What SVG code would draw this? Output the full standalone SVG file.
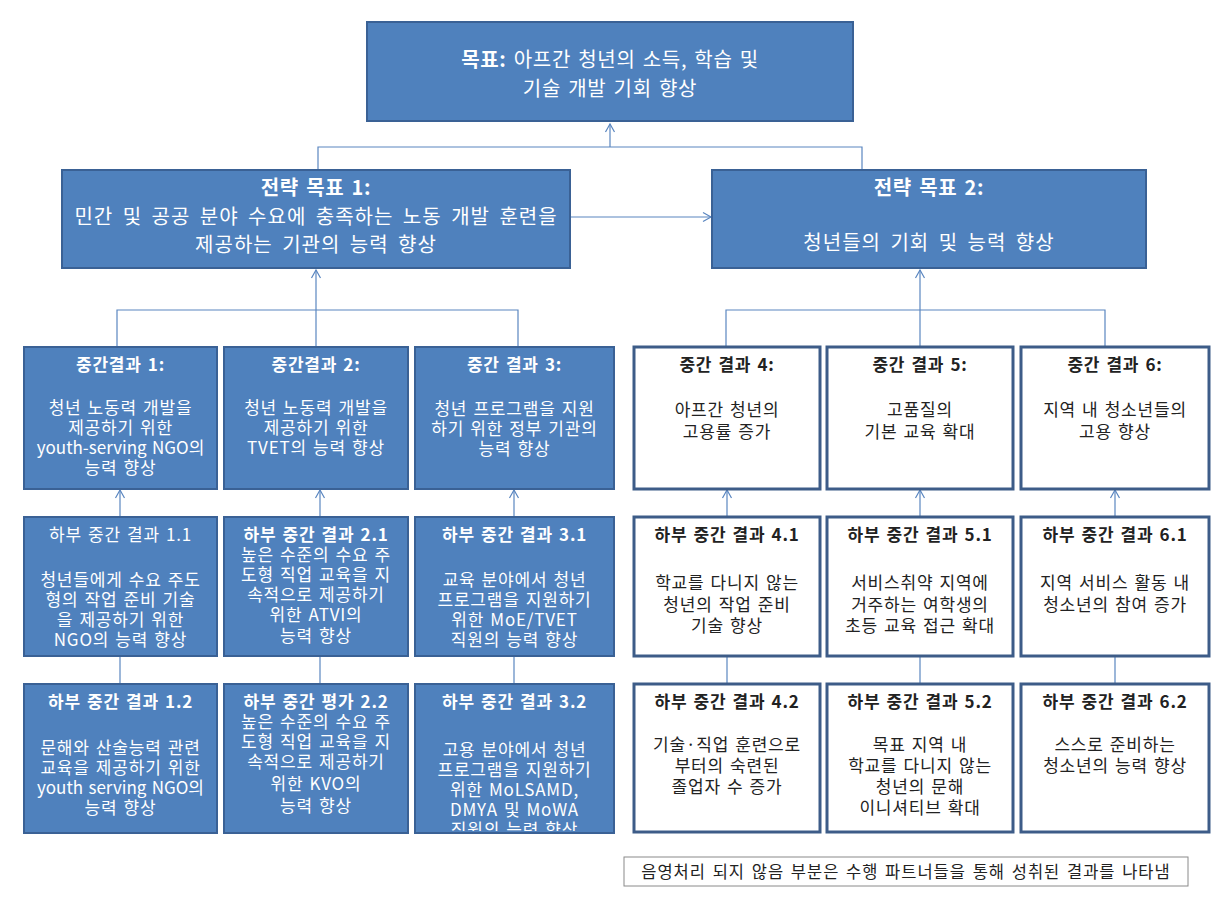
<svg xmlns="http://www.w3.org/2000/svg" width="1217" height="903" viewBox="0 0 1217 903">
<style>
.b{fill:#4F81BD;stroke:#3A6195;stroke-width:2}
.w{fill:#fff;stroke:#3D5C88;stroke-width:3}
.t{font-family:"Noto Sans CJK KR","Noto Sans",sans-serif;font-size:17px;text-anchor:middle;letter-spacing:0.8px;word-spacing:1.5px}
.tw{fill:#fff}
.tk{fill:#222}
.big{font-size:20px;letter-spacing:0.7px;word-spacing:2px}
.h{font-weight:bold}
.c{stroke:#5A86C0;stroke-width:1.2;fill:none}
.lg{fill:#fff;stroke:#8a8a8a;stroke-width:1}
</style>
<defs>
<marker id="a" markerWidth="12" markerHeight="12" refX="10" refY="6" orient="auto" markerUnits="userSpaceOnUse"><path d="M2,1.5 L10,6 L2,10.5" fill="none" stroke="#5A86C0" stroke-width="1.2"/></marker>
<clipPath id="clip3"><rect x="416" y="684" width="198" height="147"/></clipPath>
</defs>
<rect width="1217" height="903" fill="#fff"/>

<g id="connectors">
<path class="c" d="M318,170 V147 H862 V170"/>
<path class="c" d="M610,147 V124" marker-end="url(#a)"/>
<path class="c" d="M570,217 H711" marker-end="url(#a)"/>
<path class="c" d="M117,347 V310 H518 V347"/>
<path class="c" d="M316,310 V347"/>
<path class="c" d="M316,310 V270" marker-end="url(#a)"/>
<path class="c" d="M726,347 V310 H1105 V347"/>
<path class="c" d="M920,310 V347"/>
<path class="c" d="M920,310 V270" marker-end="url(#a)"/>
<path class="c" d="M120,517 V490" marker-end="url(#a)"/>
<path class="c" d="M320,517 V490" marker-end="url(#a)"/>
<path class="c" d="M514,517 V490" marker-end="url(#a)"/>
<path class="c" d="M727,517 V490" marker-end="url(#a)"/>
<path class="c" d="M920,517 V490" marker-end="url(#a)"/>
<path class="c" d="M1115,517 V490" marker-end="url(#a)"/>
<path class="c" d="M120,684 V656"/>
<path class="c" d="M320,684 V656"/>
<path class="c" d="M514,684 V656"/>
<path class="c" d="M727,684 V656"/>
<path class="c" d="M920,684 V656"/>
<path class="c" d="M1115,684 V656"/>
</g>

<g id="goal">
<rect class="b" x="367" y="22" width="486" height="99"/>
<text class="t tw big" x="610" y="67"><tspan class="h">목표:</tspan> 아프간 청년의 소득, 학습 및</text>
<text class="t tw big" x="610" y="96">기술 개발 기회 향상</text>
</g>

<g id="so1">
<rect class="b" x="62" y="170" width="508" height="98"/>
<text class="t tw big h" x="316" y="195">전략 목표 1:</text>
<text class="t tw big" x="316" y="224" style="letter-spacing:1px;word-spacing:4px">민간 및 공공 분야 수요에 충족하는 노동 개발 훈련을</text>
<text class="t tw big" x="316" y="252" style="letter-spacing:1px;word-spacing:4px">제공하는 기관의 능력 향상</text>
</g>

<g id="so2">
<rect class="b" x="712" y="170" width="434" height="98"/>
<text class="t tw big h" x="929" y="195">전략 목표 2:</text>
<text class="t tw big" x="929" y="250" style="letter-spacing:1px;word-spacing:4px">청년들의 기회 및 능력 향상</text>
</g>

<g id="ir1">
<rect class="b" x="24" y="347" width="193" height="142"/>
<text class="t tw h" x="120.5" y="371">중간결과 1:</text>
<text class="t tw" x="120.5" y="414">청년 노동력 개발을</text>
<text class="t tw" x="120.5" y="434">제공하기 위한</text>
<text class="t tw" x="120.5" y="454" style="letter-spacing:0">youth-serving NGO의</text>
<text class="t tw" x="120.5" y="474">능력 향상</text>
</g>
<g id="ir2">
<rect class="b" x="224" y="347" width="184" height="142"/>
<text class="t tw h" x="316" y="371">중간결과 2:</text>
<text class="t tw" x="316" y="414">청년 노동력 개발을</text>
<text class="t tw" x="316" y="434">제공하기 위한</text>
<text class="t tw" x="316" y="454">TVET의 능력 향상</text>
</g>
<g id="ir3">
<rect class="b" x="415" y="347" width="199" height="142"/>
<text class="t tw h" x="514.5" y="371">중간 결과 3:</text>
<text class="t tw" x="514.5" y="415">청년 프로그램을 지원</text>
<text class="t tw" x="514.5" y="435">하기 위한 정부 기관의</text>
<text class="t tw" x="514.5" y="455">능력 향상</text>
</g>
<g id="ir4">
<rect class="w" x="634" y="347" width="186" height="142"/>
<text class="t tk h" x="727" y="371">중간 결과 4:</text>
<text class="t tk" x="727" y="416">아프간 청년의</text>
<text class="t tk" x="727" y="438">고용률 증가</text>
</g>
<g id="ir5">
<rect class="w" x="827" y="347" width="186" height="142"/>
<text class="t tk h" x="920" y="371">중간 결과 5:</text>
<text class="t tk" x="920" y="416">고품질의</text>
<text class="t tk" x="920" y="438">기본 교육 확대</text>
</g>
<g id="ir6">
<rect class="w" x="1021" y="347" width="188" height="142"/>
<text class="t tk h" x="1115" y="371">중간 결과 6:</text>
<text class="t tk" x="1115" y="416">지역 내 청소년들의</text>
<text class="t tk" x="1115" y="438">고용 향상</text>
</g>

<g id="sir11">
<rect class="b" x="24" y="517" width="193" height="139"/>
<text class="t tw" x="120.5" y="541">하부 중간 결과 1.1</text>
<text class="t tw" x="120.5" y="586">청년들에게 수요 주도</text>
<text class="t tw" x="120.5" y="606">형의 작업 준비 기술</text>
<text class="t tw" x="120.5" y="626">을 제공하기 위한</text>
<text class="t tw" x="120.5" y="646">NGO의  능력 향상</text>
</g>
<g id="sir21">
<rect class="b" x="224" y="517" width="184" height="139"/>
<text class="t tw h" x="316" y="541">하부 중간 결과 2.1</text>
<text class="t tw" x="316" y="561">높은 수준의 수요 주</text>
<text class="t tw" x="316" y="581">도형 직업 교육을 지</text>
<text class="t tw" x="316" y="601">속적으로 제공하기</text>
<text class="t tw" x="316" y="621">위한 ATVI의</text>
<text class="t tw" x="316" y="642">능력 향상</text>
</g>
<g id="sir31">
<rect class="b" x="415" y="517" width="199" height="139"/>
<text class="t tw h" x="514.5" y="541">하부 중간 결과 3.1</text>
<text class="t tw" x="514.5" y="586">교육 분야에서 청년</text>
<text class="t tw" x="514.5" y="606">프로그램을 지원하기</text>
<text class="t tw" x="514.5" y="626">위한 MoE/TVET</text>
<text class="t tw" x="514.5" y="646">직원의 능력 향상</text>
</g>
<g id="sir41">
<rect class="w" x="634" y="517" width="186" height="139"/>
<text class="t tk h" x="727" y="541">하부 중간 결과 4.1</text>
<text class="t tk" x="727" y="589">학교를 다니지 않는</text>
<text class="t tk" x="727" y="611">청년의 작업 준비</text>
<text class="t tk" x="727" y="632">기술 향상</text>
</g>
<g id="sir51">
<rect class="w" x="827" y="517" width="186" height="139"/>
<text class="t tk h" x="920" y="541">하부 중간 결과 5.1</text>
<text class="t tk" x="920" y="589">서비스취약 지역에</text>
<text class="t tk" x="920" y="611">거주하는 여학생의</text>
<text class="t tk" x="920" y="632">초등 교육 접근 확대</text>
</g>
<g id="sir61">
<rect class="w" x="1021" y="517" width="188" height="139"/>
<text class="t tk h" x="1115" y="541">하부 중간 결과 6.1</text>
<text class="t tk" x="1115" y="589">지역 서비스 활동 내</text>
<text class="t tk" x="1115" y="611">청소년의 참여 증가</text>
</g>

<g id="sir12">
<rect class="b" x="24" y="684" width="193" height="149"/>
<text class="t tw h" x="120.5" y="708">하부 중간 결과 1.2</text>
<text class="t tw" x="120.5" y="754">문해와 산술능력 관련</text>
<text class="t tw" x="120.5" y="774">교육을 제공하기 위한</text>
<text class="t tw" x="120.5" y="794" style="letter-spacing:0">youth serving NGO의</text>
<text class="t tw" x="120.5" y="814">능력 향상</text>
</g>
<g id="sir22">
<rect class="b" x="224" y="684" width="184" height="149"/>
<text class="t tw h" x="316" y="708">하부 중간 평가 2.2</text>
<text class="t tw" x="316" y="728">높은 수준의 수요 주</text>
<text class="t tw" x="316" y="748">도형 직업 교육을 지</text>
<text class="t tw" x="316" y="768">속적으로 제공하기</text>
<text class="t tw" x="316" y="790">위한 KVO의</text>
<text class="t tw" x="316" y="812">능력 향상</text>
</g>
<g id="sir32">
<rect class="b" x="415" y="684" width="199" height="149"/>
<text class="t tw h" x="514.5" y="708">하부 중간 결과 3.2</text>
<text class="t tw" x="514.5" y="756">고용 분야에서 청년</text>
<text class="t tw" x="514.5" y="776">프로그램을 지원하기</text>
<text class="t tw" x="514.5" y="796">위한 MoLSAMD,</text>
<text class="t tw" x="514.5" y="816">DMYA 및 MoWA</text>
<text class="t tw" x="514.5" y="836" clip-path="url(#clip3)">직원의 능력 향상</text>
</g>
<g id="sir42">
<rect class="w" x="634" y="684" width="186" height="148"/>
<text class="t tk h" x="727" y="708">하부 중간 결과 4.2</text>
<text class="t tk" x="727" y="751">기술·직업 훈련으로</text>
<text class="t tk" x="727" y="772">부터의 숙련된</text>
<text class="t tk" x="727" y="793">졸업자 수 증가</text>
</g>
<g id="sir52">
<rect class="w" x="827" y="684" width="186" height="148"/>
<text class="t tk h" x="920" y="708">하부 중간 결과 5.2</text>
<text class="t tk" x="920" y="751">목표 지역 내</text>
<text class="t tk" x="920" y="772">학교를 다니지 않는</text>
<text class="t tk" x="920" y="793">청년의 문해</text>
<text class="t tk" x="920" y="814">이니셔티브 확대</text>
</g>
<g id="sir62">
<rect class="w" x="1021" y="684" width="188" height="148"/>
<text class="t tk h" x="1115" y="708">하부 중간 결과 6.2</text>
<text class="t tk" x="1115" y="751">스스로 준비하는</text>
<text class="t tk" x="1115" y="772">청소년의 능력 향상</text>
</g>

<g id="legend">
<rect class="lg" x="624" y="857" width="564" height="29"/>
<text class="t tk" x="906" y="878" style="font-size:16.5px;letter-spacing:1px;word-spacing:2px">음영처리 되지 않음 부분은 수행 파트너들을 통해 성취된 결과를 나타냄</text>
</g>
</svg>
